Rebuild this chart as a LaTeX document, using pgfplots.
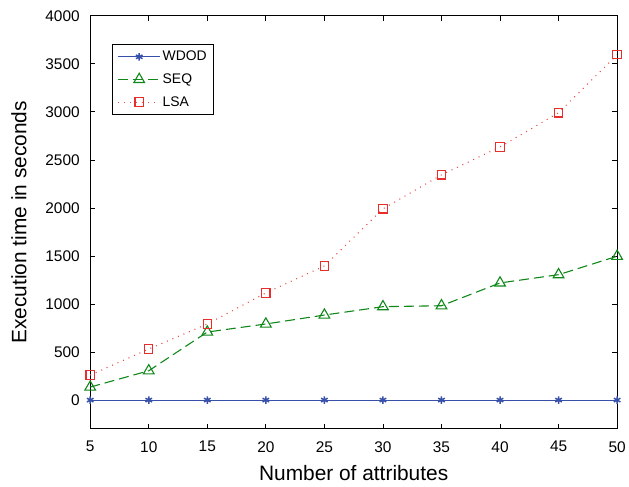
\documentclass[border=0pt]{standalone}
\usepackage{fontspec}
\setmainfont{Liberation Sans}
\usepackage{pgfplots}
\pgfplotsset{compat=1.18}
\definecolor{wdod}{RGB}{55,80,170}
\definecolor{seq}{RGB}{15,135,25}
\definecolor{lsa}{RGB}{232,45,45}
\begin{document}
\begin{tikzpicture}
\begin{axis}[
  width=528bp, height=414bp, scale only axis,
  xmin=5, xmax=50, ymin=-300, ymax=4000,
  xtick={5,10,...,50}, ytick={0,500,...,4000},
  tick align=inside, major tick length=5bp,
  every tick/.style={black, line width=0.7pt},
  axis line style={line width=0.9pt},
  tick label style={font=\fontsize{15.5}{18}\selectfont},
  label style={font=\fontsize{21}{24}\selectfont},
  xticklabel style={yshift=-9bp},
  yticklabel style={xshift=-7bp},
  /pgf/number format/assume math mode=true,
  /pgf/number format/1000 sep={},
  xlabel={Number of attributes},
  ylabel={Execution time in seconds},
  xlabel style={yshift=-6bp},
  ylabel style={yshift=12bp},
  legend style={at={(0.042,0.932)}, anchor=north west, draw=black, line width=0.8pt,
    font=\fontsize{14}{16}\selectfont, row sep=7.5pt, inner xsep=5pt, inner ysep=5pt},
  legend cell align=left,
  legend image code/.code={\draw[mark repeat=2,mark phase=2] plot coordinates {(0bp,0bp) (21bp,0bp) (42bp,0bp)};},
]
\addplot[wdod, line width=1.1pt, mark=asterisk, mark size=3.8pt, mark options={solid, draw=wdod, line width=1.5pt}] coordinates {
(5,0) (10,0) (15,0) (20,0) (25,0) (30,0) (35,0) (40,0) (45,0) (50,0)};
\addlegendentry{WDOD}
\addplot[seq, line width=1.1pt, dash pattern=on 10bp off 5bp, mark=triangle, mark size=6.2pt, mark options={solid, draw=seq, line width=1.1pt}] coordinates {
(5,135) (10,305) (15,708) (20,792) (25,885) (30,972) (35,982) (40,1219) (45,1305) (50,1497)};
\addlegendentry{SEQ}
\addplot[lsa!85, line width=1.1pt, dash pattern=on 1bp off 5bp, mark=square, mark size=4.2pt, mark options={solid, draw=lsa, line width=1.1pt}] coordinates {
(5,260) (10,531) (15,792) (20,1115) (25,1396) (30,1990) (35,2344) (40,2635) (45,2990) (50,3594)};
\addlegendentry{LSA}
\end{axis}
\path ([xshift=-8bp,yshift=7bp]current bounding box.north west);
\path ([yshift=-3bp]current bounding box.south east);
\end{tikzpicture}
\end{document}
